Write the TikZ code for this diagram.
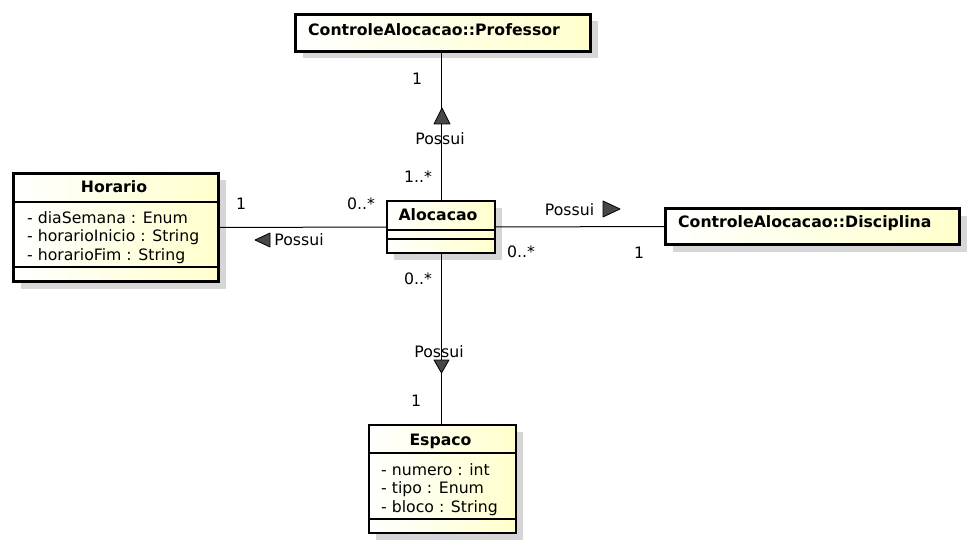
\documentclass[tikz,border=0pt]{standalone}
\usepackage{fontspec}
\setmainfont{DejaVu Sans}
\usetikzlibrary{shadows}

\definecolor{umlyellow}{RGB}{255,255,204}
\definecolor{umlshadow}{RGB}{214,214,214}

\tikzstyle{classbox} = [draw=black, line width=2.6pt, inner sep=0pt, outer sep=0pt, left color=white, right color=umlyellow,
                        drop shadow={shadow xshift=7pt, shadow yshift=-7pt, fill=umlshadow, opacity=1}]
\tikzstyle{divider}  = [line width=1.1pt]
\tikzstyle{ctitle}   = [font=\fontsize{15.7}{18.5}\selectfont\bfseries, inner sep=0pt, anchor=base]
\tikzstyle{cattr}    = [font=\fontsize{15.7}{18.5}\selectfont, inner sep=0pt, align=left, anchor=north west]
\tikzstyle{mult}     = [font=\fontsize{15.7}{18.5}\selectfont, inner sep=0pt]
\tikzstyle{assoc}    = [line width=1pt]
\tikzstyle{dirmark}  = [fill=black!72, draw=black, line width=0.8pt, line join=round]

\begin{document}
\begin{tikzpicture}[x=1pt, y=-1pt]
    \useasboundingbox[fill=white] (0,0) rectangle (974,548);

    % classes
    \draw
      node[classbox, minimum width=295, minimum height=37]  (prof) at (443, 33)    {}
      node[classbox, minimum width=294, minimum height=36]  (disc) at (812.5, 226.5) {}
      node[classbox, minimum width=205, minimum height=108] (hor)  at (116, 227.5)  {}
      node[classbox, minimum width=108, minimum height=52]  (aloc) at (441, 227)    {}
      node[classbox, minimum width=147, minimum height=108] (esp)  at (442.5, 479)  {};

    \draw[divider] ([yshift=-28.5pt]hor.north west) -- ([yshift=-28.5pt]hor.north east);
    \draw[divider] ([yshift=-93.5pt]hor.north west) -- ([yshift=-93.5pt]hor.north east);
    \draw[divider] ([yshift=-29pt]aloc.north west) -- ([yshift=-29pt]aloc.north east);
    \draw[divider] ([yshift=-38pt]aloc.north west) -- ([yshift=-38pt]aloc.north east);
    \draw[divider] ([yshift=-28pt]esp.north west) -- ([yshift=-28pt]esp.north east);
    \draw[divider] ([yshift=-94pt]esp.north west) -- ([yshift=-94pt]esp.north east);

    \draw
      node[ctitle, anchor=base west] (prof-name) at ([xshift=12.5pt, yshift=-3pt]prof.west) {ControleAlocacao::Professor}
      node[ctitle, anchor=base west] (disc-name) at ([xshift=12.5pt, yshift=-0.5pt]disc.west) {ControleAlocacao::Disciplina}
      node[ctitle] (hor-name)  at ([xshift=-2pt, yshift=-19.5pt]hor.north) {Horario}
      node[ctitle] (aloc-name) at ([xshift=-3pt, yshift=-20pt]aloc.north) {Alocacao}
      node[ctitle] (esp-name)  at ([xshift=-2pt, yshift=-20pt]esp.north) {Espaco}
      node[cattr] (hor-attrs) at ([xshift=13.5pt, yshift=-37.7pt]hor.north west)
        {- diaSemana : Enum\\- horarioInicio : String\\- horarioFim : String}
      node[cattr] (esp-attrs) at ([xshift=12pt, yshift=-38pt]esp.north west)
        {- numero : int\\- tipo : Enum\\- bloco : String};

    % associations
    \draw[assoc] (aloc.north) -- (aloc.north |- prof.south);
    \draw[assoc] (hor.east) -- (aloc.west);
    \draw[assoc] (aloc.east) -- (disc.west);
    \draw[assoc] (aloc.south) -- (aloc.south |- esp.north);

    \draw[dirmark] (442,108) -- (450,124) -- (434,124) -- cycle;
    \draw[dirmark] (255,240) -- (270,233) -- (270,247) -- cycle;
    \draw[dirmark] (620,209) -- (603,201) -- (603,217) -- cycle;
    \draw[dirmark] (441.5,373) -- (449,360) -- (434,360) -- cycle;

    \draw
      node[mult] (prof-m)   at (417, 79)    {1}
      node[mult] (prof-as)  at (440, 139)   {Possui}
      node[mult] (aloc-m1)  at (418, 177)   {1..*}
      node[mult] (hor-m)    at (241, 204)   {1}
      node[mult] (aloc-m2)  at (361, 204)   {0..*}
      node[mult] (hor-as)   at (299, 240)   {Possui}
      node[mult] (disc-as)  at (569.5, 210) {Possui}
      node[mult] (aloc-m3)  at (521, 252)   {0..*}
      node[mult] (disc-m)   at (639, 253)   {1}
      node[mult] (aloc-m4)  at (418, 279)   {0..*}
      node[mult] (esp-as)   at (439, 352)   {Possui}
      node[mult] (esp-m)    at (416, 401)   {1};
\end{tikzpicture}
\end{document}
